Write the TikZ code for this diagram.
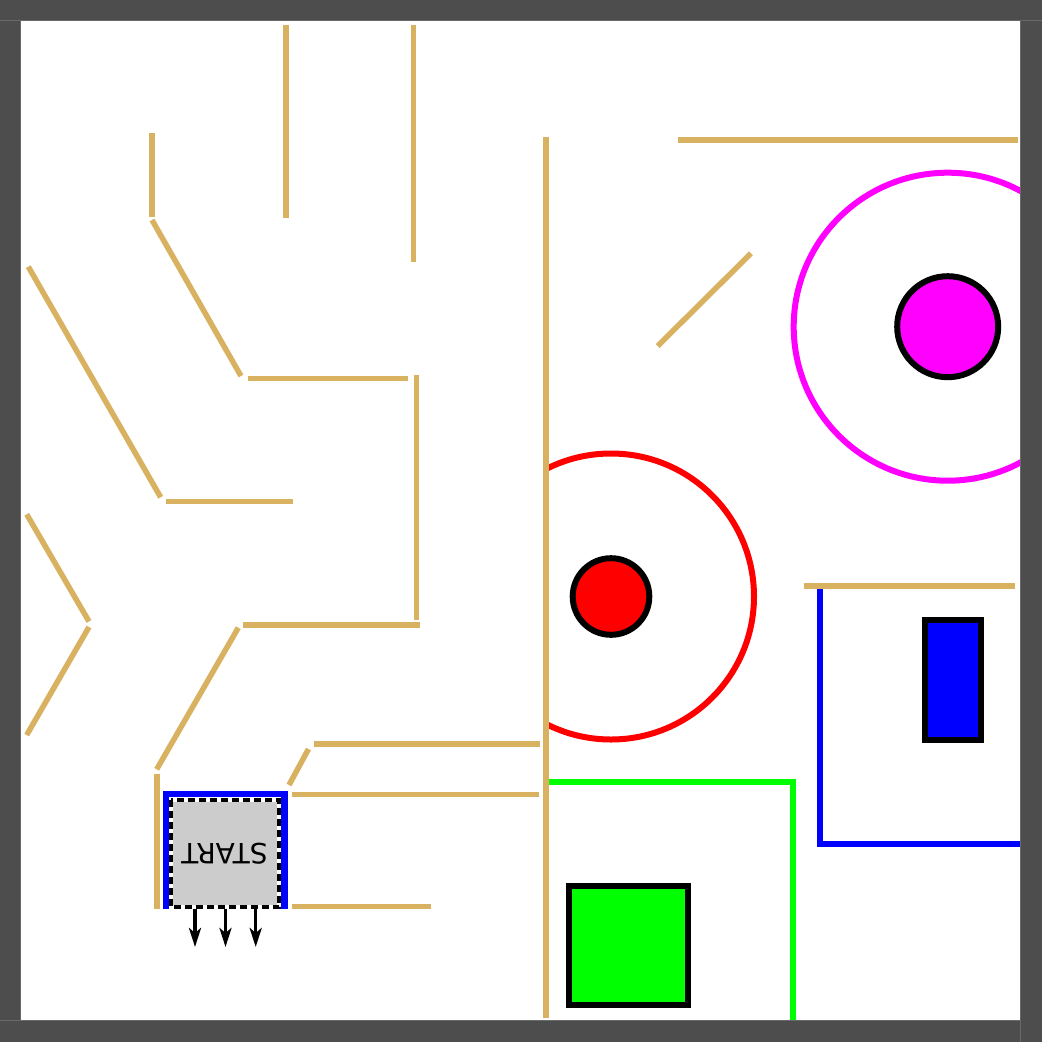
\documentclass[tikz,border=0pt]{standalone}
\usepackage{fontspec}
\newfontfamily\startfont{DejaVu Sans}
\usetikzlibrary{arrows.meta}
\definecolor{wallc}{RGB}{216,178,96}
\definecolor{framec}{RGB}{77,77,77}
\definecolor{frameedge}{RGB}{105,105,105}
\definecolor{boxgray}{RGB}{204,204,204}
\definecolor{pureg}{RGB}{0,255,0}
\definecolor{pureb}{RGB}{0,0,255}
\definecolor{purer}{RGB}{255,0,0}
\definecolor{purem}{RGB}{255,0,255}
\tikzset{
  wall/.style={draw=wallc, line width=5.5pt, line cap=butt},
  zone/.style={line width=6pt, line join=miter},
  target/.style={draw=black, line width=6pt},
  framebar/.style={fill=framec, draw=frameedge, line width=1pt},
  outarrow/.style={-{Stealth[length=19pt,width=12pt,inset=5pt]}, line width=3.5pt, draw=black}
}
\begin{document}
\begin{tikzpicture}[x=1pt,y=-1pt]
\useasboundingbox (0,0) rectangle (1042,1042);
\fill[white] (0,0) rectangle (1042,1042);

% red range circle (clipped at the central wall)
\begin{scope}
  \clip (546,0) rectangle (1042,1042);
  \draw[purer, line width=6pt] (611,596.5) circle[radius=143];
\end{scope}
\draw[target, fill=purer] (611,596.5) circle[radius=38.3];

% magenta range circle
\draw[purem, line width=6pt] (947.7,326.7) circle[radius=154];
\draw[target, fill=purem] (947.7,326.7) circle[radius=50.5];

% green zone
\draw[zone, pureg] (546,782) -- (792.5,782) -- (792.5,1021);
\draw[target, fill=pureg] (569.3,886) rectangle (688.3,1005);

% blue zone
\draw[zone, pureb] (820.3,589) -- (820.3,843.7) -- (1021,843.7);
\draw[target, fill=pureb] (924.7,620.3) rectangle (981,739.7);

% walls
\draw[wall] (286,25) -- (286,218);
\draw[wall] (413.3,25) -- (413.3,262);
\draw[wall] (152,133) -- (152,217);
\draw[wall] (152,220) -- (241,376);
\draw[wall] (247.5,378.3) -- (407.7,378.3);
\draw[wall] (416.7,375) -- (416.7,619.5);
\draw[wall] (28.3,266.7) -- (160.7,497.3);
\draw[wall] (166,501.3) -- (293.3,501.3);
\draw[wall] (26.7,514.3) -- (89,621.5);
\draw[wall] (89,627) -- (26.7,735);
\draw[wall] (242.7,625) -- (420,625);
\draw[wall] (238.3,627.7) -- (156.7,769.3);
\draw[wall] (157.2,773.5) -- (157.2,909.3);
\draw[wall] (308.5,749) -- (289,785);
\draw[wall] (314,744) -- (540,744);
\draw[wall] (291.7,794.3) -- (539.3,794.3);
\draw[wall] (291.7,906.7) -- (431,906.7);
\draw[wall] (546,136.7) -- (546,1017.7);
\draw[wall] (677.7,140) -- (1017.7,140);
\draw[wall] (657.7,346) -- (751,253.3);
\draw[wall] (804.3,586) -- (1015,586);

% start box
\draw[pureb, line width=6.5pt, line join=miter] (166,909.3) -- (166,794) -- (284.3,794) -- (284.3,909.3);
\fill[boxgray] (173.3,801.7) rectangle (277,905.3);
\draw[black, line width=4pt, dash pattern=on 7pt off 4pt] (171.3,799.7) rectangle (279,907.3);
\node[rotate=180, inner sep=0pt, font=\startfont\fontsize{28}{30}\selectfont] (start) at (224.5,853.5) {START};
\coordinate (o1) at (195,909);
\coordinate (o2) at (225.5,909);
\coordinate (o3) at (255.7,909);
\coordinate (e1) at (195,947);
\coordinate (e2) at (225.5,947);
\coordinate (e3) at (255.7,947);
\draw[outarrow] (o1) -- (e1);
\draw[outarrow] (o2) -- (e2);
\draw[outarrow] (o3) -- (e3);

% frame
\draw[framebar] (-1,-1) rectangle (20.5,1043);
\draw[framebar] (-1,1020.5) rectangle (1043,1043);
\draw[framebar] (-1,-1) rectangle (1043,20.5);
\draw[framebar] (1020.5,20.5) rectangle (1043,1043);
\end{tikzpicture}
\end{document}
